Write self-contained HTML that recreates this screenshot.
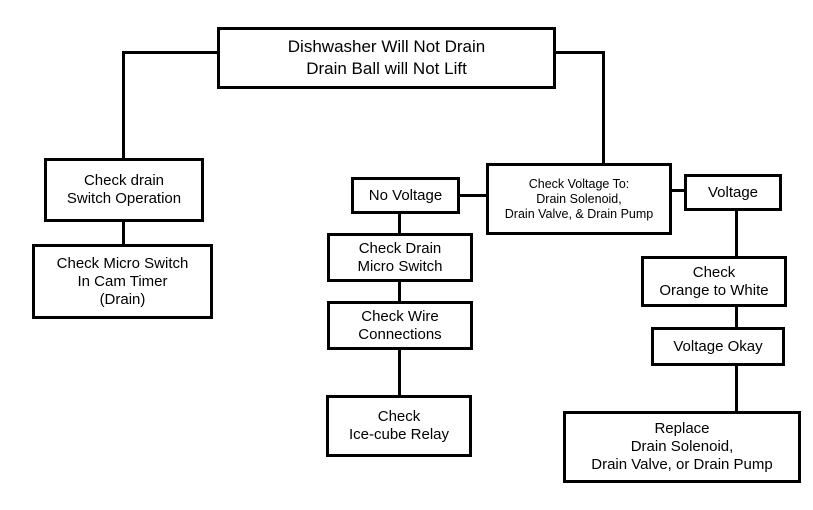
<!DOCTYPE html>
<html><head><style>
body{margin:0;width:813px;height:510px;background:#fff;position:relative;overflow:hidden;font-family:"Liberation Sans",Arial,sans-serif;}
.b{position:absolute;box-sizing:border-box;border:3px solid #000;display:flex;align-items:center;justify-content:center;text-align:center;font-size:15px;line-height:18px;color:#000;background:#fff;}
.l{position:absolute;background:#000;}
</style></head><body>
<div class="l" style="left:122px;top:51px;width:97px;height:3px"></div>
<div class="l" style="left:122px;top:51px;width:3px;height:109px"></div>
<div class="l" style="left:553px;top:51px;width:52px;height:3px"></div>
<div class="l" style="left:602px;top:51px;width:3px;height:114px"></div>
<div class="l" style="left:122px;top:219px;width:3px;height:27px"></div>
<div class="l" style="left:457px;top:194px;width:31px;height:3px"></div>
<div class="l" style="left:669px;top:189px;width:17px;height:3px"></div>
<div class="l" style="left:398px;top:211px;width:3px;height:190px"></div>
<div class="l" style="left:735px;top:208px;width:3px;height:205px"></div>

<div class="b" style="left:217px;top:27px;width:339px;height:62px;font-size:17px;line-height:22px">Dishwasher Will Not Drain<br>Drain Ball will Not Lift</div>
<div class="b" style="left:44px;top:158px;width:160px;height:64px">Check drain<br>Switch Operation</div>
<div class="b" style="left:32px;top:244px;width:181px;height:75px">Check Micro Switch<br>In Cam Timer<br>(Drain)</div>
<div class="b" style="left:351px;top:177px;width:109px;height:37px">No Voltage</div>
<div class="b" style="left:486px;top:163px;width:186px;height:72px;font-size:12.5px;line-height:15px">Check Voltage To:<br>Drain Solenoid,<br>Drain Valve, &amp; Drain Pump</div>
<div class="b" style="left:684px;top:174px;width:98px;height:37px">Voltage</div>
<div class="b" style="left:327px;top:233px;width:146px;height:49px">Check Drain<br>Micro Switch</div>
<div class="b" style="left:327px;top:301px;width:146px;height:49px">Check Wire<br>Connections</div>
<div class="b" style="left:326px;top:395px;width:146px;height:62px">Check<br>Ice-cube Relay</div>
<div class="b" style="left:641px;top:256px;width:146px;height:51px">Check<br>Orange to White</div>
<div class="b" style="left:651px;top:327px;width:134px;height:39px">Voltage Okay</div>
<div class="b" style="left:563px;top:411px;width:238px;height:72px">Replace<br>Drain Solenoid,<br>Drain Valve, or Drain Pump</div>
</body></html>
